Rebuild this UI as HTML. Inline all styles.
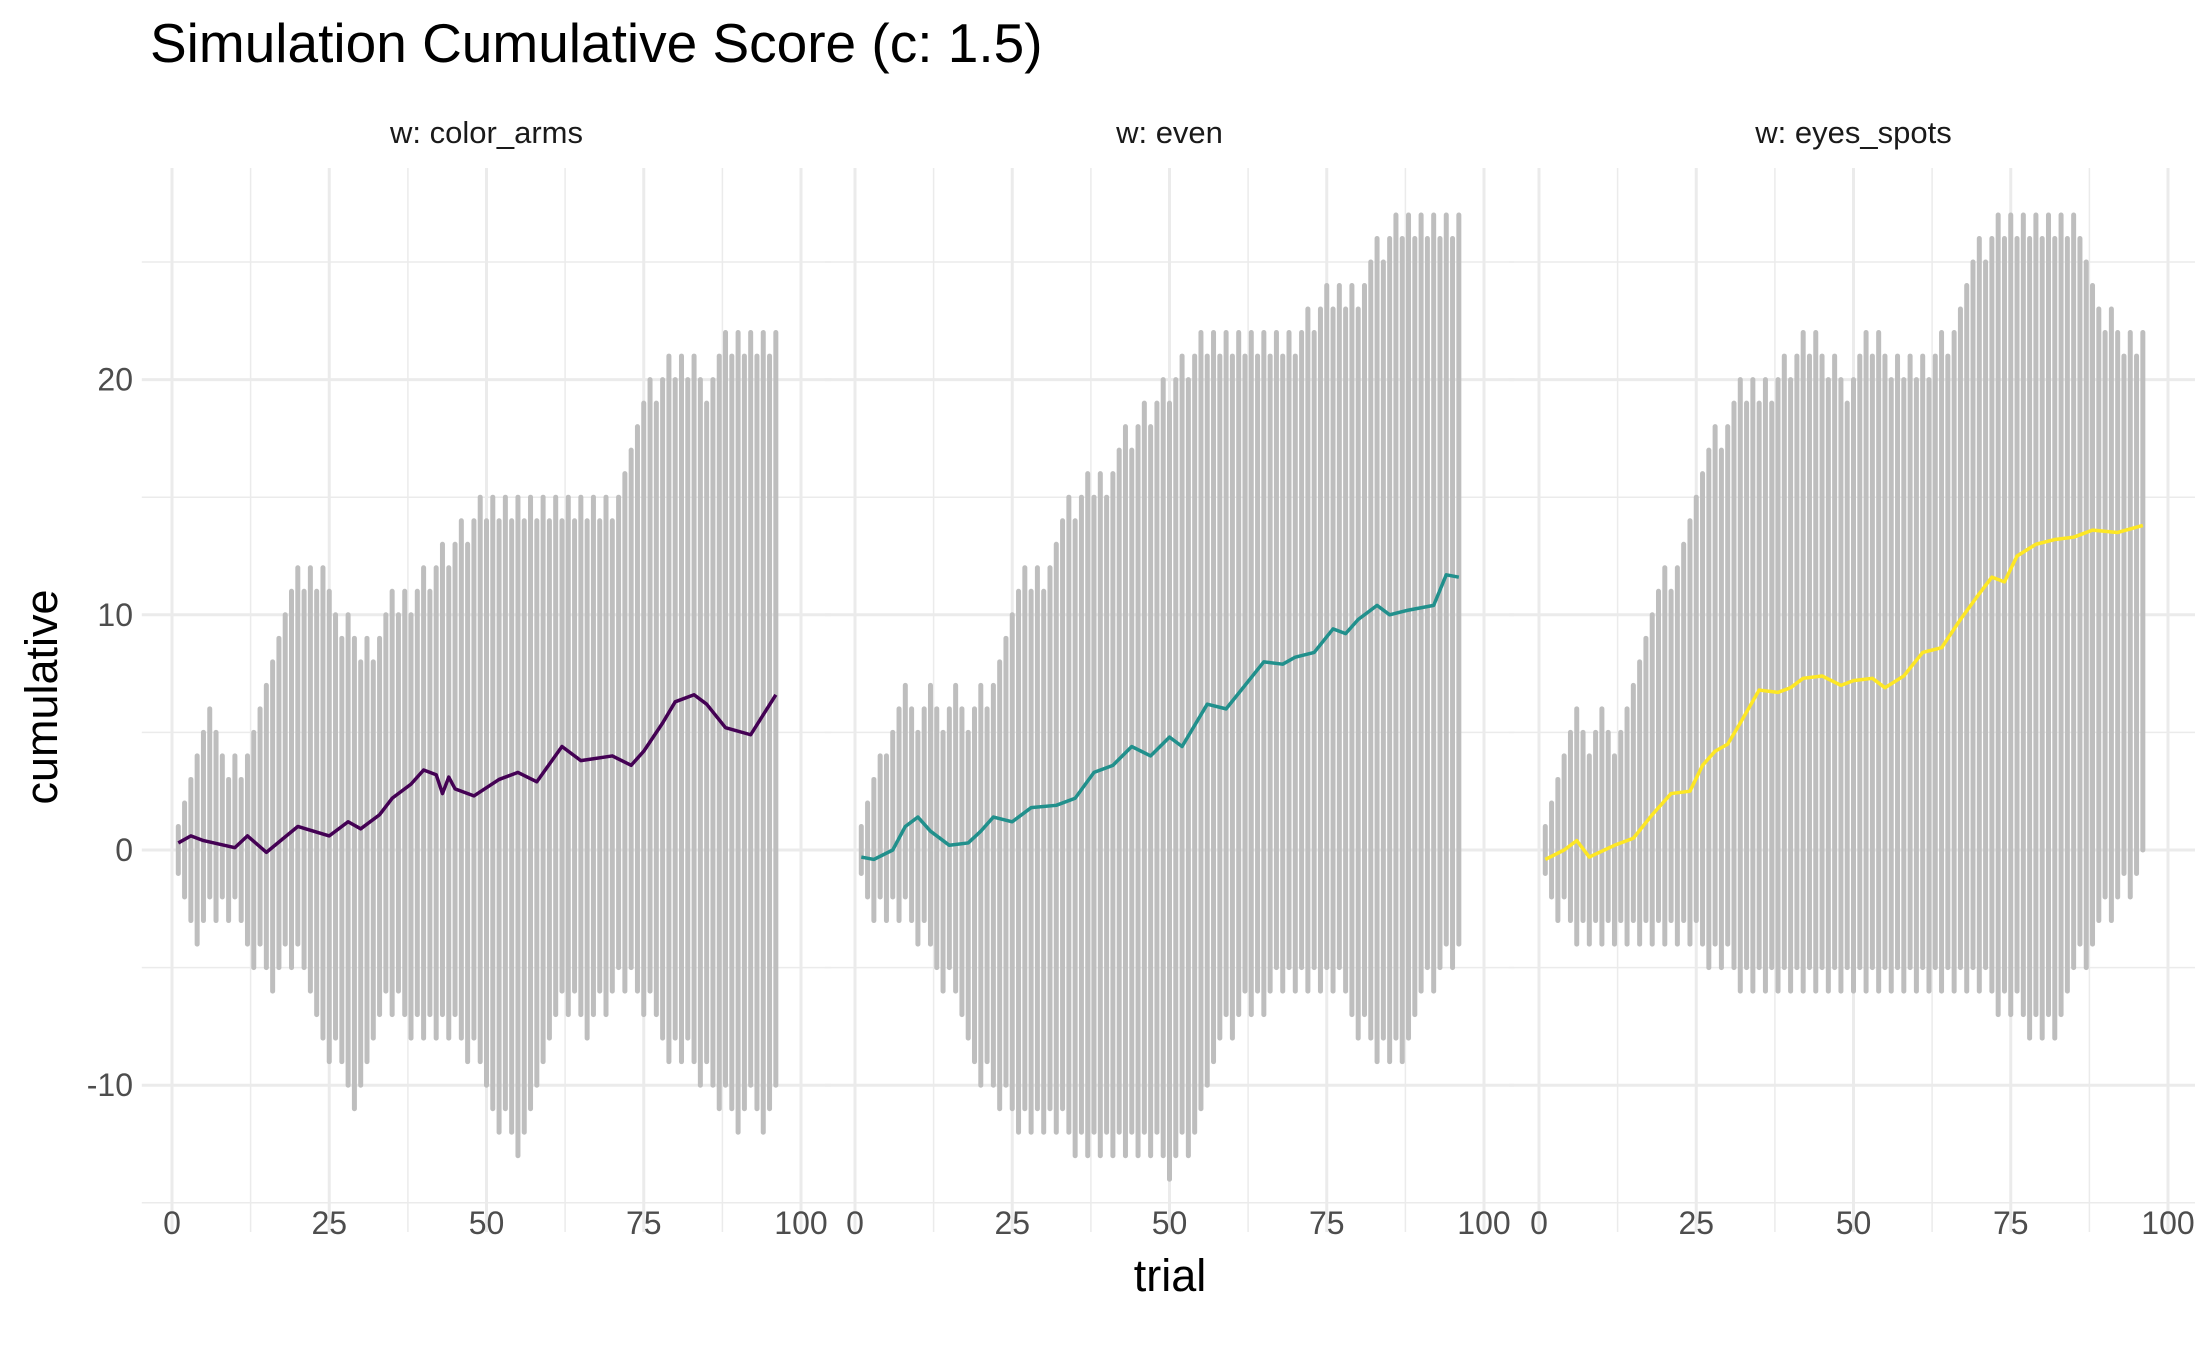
<!DOCTYPE html>
<html><head><meta charset="utf-8">
<style>
html,body{margin:0;padding:0;background:#fff;}
svg{display:block;font-family:"Liberation Sans",Arial,sans-serif;}
</style></head>
<body>
<svg id="chart" width="2195" height="1358" viewBox="0 0 2195 1358" xmlns="http://www.w3.org/2000/svg">
<rect width="2195" height="1358" fill="#fff"/>
<text x="150" y="62" font-size="55" fill="#000">Simulation Cumulative Score (c: 1.5)</text>
<text x="1170" y="1291" font-size="45" text-anchor="middle" fill="#000">trial</text>
<text x="57" y="697" font-size="45" text-anchor="middle" fill="#000" transform="rotate(-90 57 697)">cumulative</text>
<g id="panels"></g>
</svg>
<script>
const panelNames = ["w: color_arms", "w: even", "w: eyes_spots"];
const lineColors = ["#440154", "#21908c", "#fde725"];
const yTicks = [-10, 0, 10, 20];
const yMinor = [-15, -5, 5, 15, 25];
const xTicks = [0, 25, 50, 75, 100];
const xTickLabels = ["0", "25", "50", "75", "100"];

const hi1 = [1,2,3,4,5,6,5,4,3,4,3,4,5,6,7,8,9,10,11,12,11,12,11,12,11,10,9,10,9,8,9,8,9,10,11,10,11,10,11,12,11,12,13,12,13,14,13,14,15,14,15,14,15,14,15,14,15,14,15,14,15,14,15,14,15,14,15,14,15,14,15,16,17,18,19,20,19,20,21,20,21,20,21,20,19,20,21,22,21,22,21,22,21,22,21,22];
const lo1 = [-1,-2,-3,-4,-3,-2,-3,-2,-3,-2,-3,-4,-5,-4,-5,-6,-5,-4,-5,-4,-5,-6,-7,-8,-9,-8,-9,-10,-11,-10,-9,-8,-7,-6,-7,-6,-7,-8,-7,-8,-7,-8,-7,-8,-7,-8,-9,-8,-9,-10,-11,-12,-11,-12,-13,-12,-11,-10,-9,-8,-7,-6,-7,-6,-7,-8,-7,-6,-7,-6,-5,-6,-5,-6,-7,-6,-7,-8,-9,-8,-9,-8,-9,-10,-9,-10,-11,-10,-11,-12,-11,-10,-11,-12,-11,-10];
const hi2 = [1,2,3,4,4,5,6,7,6,5,6,7,6,5,6,7,6,5,6,7,6,7,8,9,10,11,12,11,12,11,12,13,14,15,14,15,16,15,16,15,16,17,18,17,18,19,18,19,20,19,20,21,20,21,22,21,22,21,22,21,22,21,22,21,22,21,22,21,22,21,22,23,22,23,24,23,24,23,24,23,24,25,26,25,26,27,26,27,26,27,26,27,26,27,26,27];
const lo2 = [-1,-2,-3,-2,-3,-2,-3,-2,-3,-4,-3,-4,-5,-6,-5,-6,-7,-8,-9,-10,-9,-10,-11,-10,-11,-12,-11,-12,-11,-12,-11,-12,-11,-12,-13,-12,-13,-12,-13,-12,-13,-12,-13,-12,-13,-12,-13,-12,-13,-14,-13,-12,-13,-12,-11,-10,-9,-8,-7,-8,-7,-6,-7,-6,-7,-6,-5,-6,-5,-6,-5,-6,-5,-6,-5,-6,-5,-6,-7,-8,-7,-8,-9,-8,-9,-8,-9,-8,-7,-6,-5,-6,-5,-4,-5,-4];
const hi3 = [1,2,3,4,5,6,5,4,5,6,5,4,5,6,7,8,9,10,11,12,11,12,13,14,15,16,17,18,17,18,19,20,19,20,19,20,19,20,21,20,21,22,21,22,21,20,21,20,19,20,21,22,21,22,21,20,21,20,21,20,21,20,21,22,21,22,23,24,25,26,25,26,27,26,27,26,27,26,27,26,27,26,27,26,27,26,25,24,23,22,23,22,21,22,21,22];
const lo3 = [-1,-2,-3,-2,-3,-4,-3,-4,-3,-4,-3,-4,-3,-4,-3,-4,-3,-4,-3,-4,-3,-4,-3,-4,-3,-4,-5,-4,-5,-4,-5,-6,-5,-6,-5,-6,-5,-6,-5,-6,-5,-6,-5,-6,-5,-6,-5,-6,-5,-6,-5,-6,-5,-6,-5,-6,-5,-6,-5,-6,-5,-6,-5,-6,-5,-6,-5,-6,-5,-6,-5,-6,-7,-6,-7,-6,-7,-8,-7,-8,-7,-8,-7,-6,-5,-4,-5,-4,-3,-2,-3,-2,-1,-2,-1,0];

const meanTrials1 = [1,3,5,10,12,15,20,25,28,30,33,35,38,40,42,43,44,45,48,52,55,58,62,65,70,73,75,78,80,83,85,88,92,96];
const meanVals1 = [0.3,0.6,0.4,0.1,0.6,-0.1,1.0,0.6,1.2,0.9,1.5,2.2,2.8,3.4,3.2,2.4,3.1,2.6,2.3,3.0,3.3,2.9,4.4,3.8,4.0,3.6,4.2,5.4,6.3,6.6,6.2,5.2,4.9,6.6];
const meanTrials2 = [1,3,6,8,10,12,15,18,20,22,25,28,32,35,38,41,44,47,50,52,56,59,62,65,68,70,73,76,78,80,83,85,88,92,94,96];
const meanVals2 = [-0.3,-0.4,0.0,1.0,1.4,0.8,0.2,0.3,0.8,1.4,1.2,1.8,1.9,2.2,3.3,3.6,4.4,4.0,4.8,4.4,6.2,6.0,7.0,8.0,7.9,8.2,8.4,9.4,9.2,9.8,10.4,10.0,10.2,10.4,11.7,11.6];
const meanTrials3 = [1,4,6,8,12,15,18,21,24,26,28,30,32,35,38,40,42,45,48,50,53,55,58,61,64,67,70,72,74,76,79,82,85,88,92,96];
const meanVals3 = [-0.4,0.0,0.4,-0.3,0.2,0.5,1.5,2.4,2.5,3.6,4.2,4.5,5.4,6.8,6.7,6.9,7.3,7.4,7.0,7.2,7.3,6.9,7.4,8.4,8.6,9.8,10.9,11.6,11.4,12.5,13.0,13.2,13.3,13.6,13.5,13.8];

const his = [hi1, hi2, hi3], los = [lo1, lo2, lo3];
const mTr = [meanTrials1, meanTrials2, meanTrials3], mVal = [meanVals1, meanVals2, meanVals3];

const NS = "http://www.w3.org/2000/svg";
const panelX0 = [172, 855, 1539];
const pxPerX = 6.29;
const y0 = 850, pxPerY = 16.8 * 1.4;
const yTop = 168, yBot = 1232;
function yScale(v) { return y0 - v * pxPerY; }
function xScale(p, v) { return panelX0[p] + v * pxPerX; }
function mk(tag, attrs, parent) {
  const el = document.createElementNS(NS, tag);
  for (const k in attrs) el.setAttribute(k, attrs[k]);
  parent.appendChild(el);
  return el;
}
const root = document.getElementById("panels");
for (let p = 0; p < 3; p++) {
  const g = mk("g", {}, root);
  
  
  const xl = xScale(p, -4.8), xr = xScale(p, 104.8);
  yMinor.forEach(v => {
    const l = mk("line", {x1: xl, x2: xr, y1: yScale(v), y2: yScale(v), stroke: "#ebebeb", "stroke-width": 1.5}, g);
    
    
  });
  yTicks.forEach(v => {
    const l = mk("line", {x1: xl, x2: xr, y1: yScale(v), y2: yScale(v), stroke: "#ebebeb", "stroke-width": 3}, g);
    
    
  });
  [12.5, 37.5, 62.5, 87.5].forEach(v => {
    const l = mk("line", {x1: xScale(p, v), x2: xScale(p, v), y1: yTop, y2: yBot, stroke: "#ebebeb", "stroke-width": 1.5}, g);
    
    
  });
  xTicks.forEach((v, i) => {
    const l = mk("line", {x1: xScale(p, v), x2: xScale(p, v), y1: yTop, y2: yBot, stroke: "#ebebeb", "stroke-width": 3}, g);
    
    
    const t = mk("text", {x: xScale(p, v), y: 1234, "font-size": 32, fill: "#4d4d4d", "text-anchor": "middle"}, g);
    t.textContent = xTickLabels[i];
    
    
  });
  const strip = mk("text", {x: xScale(p, 50), y: 143, "font-size": 31, fill: "#1a1a1a", "text-anchor": "middle"}, g);
  strip.textContent = panelNames[p];
  
  
  const hi = his[p], lo = los[p];
  for (let i = 0; i < hi.length; i++) {
    const x = xScale(p, i + 1);
    const b = mk("line", {x1: x, x2: x, y1: yScale(hi[i]), y2: yScale(lo[i]), stroke: "#bebebe", "stroke-width": 5, "stroke-linecap": "round"}, g);
    
    
  }
  let d = "";
  mTr[p].forEach((t, i) => { d += (i ? "L" : "M") + xScale(p, t) + "," + yScale(mVal[p][i]) + " "; });
  const ml = mk("path", {d: d, fill: "none", stroke: lineColors[p], "stroke-width": 3.5, "stroke-linejoin": "round"}, g);
  
  
}
yTicks.forEach(v => {
  const t = mk("text", {x: 133, y: yScale(v) + 11, "font-size": 32, fill: "#4d4d4d", "text-anchor": "end"}, root);
  t.textContent = String(v);
  
  
});
</script>
</body></html>
